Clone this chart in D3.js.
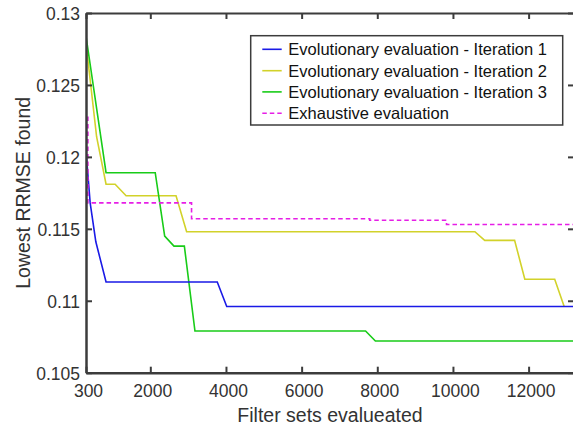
<!DOCTYPE html>
<html>
<head>
<meta charset="utf-8">
<script src="https://cdn.jsdelivr.net/npm/d3@7"></script>
<style>
  html, body { margin: 0; padding: 0; background: #fff; }
  svg { display: block; font-family: "Liberation Sans", Arial, sans-serif; }
</style>
</head>
<body>
<svg id="chart" width="573" height="425"></svg>
<script>
// ---- data ----
const seriesNames = [
  "Evolutionary evaluation - Iteration 1",
  "Evolutionary evaluation - Iteration 2",
  "Evolutionary evaluation - Iteration 3",
  "Exhaustive evaluation"
];
const iter1X = [300, 410, 560, 830, 3770, 4020, 13200];
const iter1Y = [0.1204, 0.1168, 0.1141, 0.1113, 0.1113, 0.1096, 0.1096];

const iter2X = [300, 580, 830, 1070, 1360, 2680, 2960, 10580, 10840, 11630, 11900, 12690, 12940];
const iter2Y = [0.1279, 0.1214, 0.1181, 0.1181, 0.1173, 0.1173, 0.1148, 0.1148, 0.1142, 0.1142, 0.1115, 0.1115, 0.1096];

const iter3X = [300, 830, 2130, 2380, 2625, 2900, 3180, 7690, 7950, 13200];
const iter3Y = [0.1284, 0.1189, 0.1189, 0.1145, 0.1138, 0.1138, 0.1079, 0.1079, 0.1072, 0.1072];

const exhaustX = [350, 350, 3090, 3090, 7800, 7800, 9830, 9830, 13200];
const exhaustY = [0.1228, 0.1168, 0.1168, 0.1157, 0.1157, 0.1156, 0.1156, 0.1153, 0.1153];

const xTickValues = [300, 2000, 4000, 6000, 8000, 10000, 12000];
const xTickLabels = ["300", "2000", "4000", "6000", "8000", "10000", "12000"];
const yTickValues = [0.105, 0.11, 0.115, 0.12, 0.125, 0.13];
const yTickLabels = ["0.105", "0.11", "0.115", "0.12", "0.125", "0.13"];

const xDomain = [300, 13200];
const yDomain = [0.105, 0.13];

// ---- styles ----
const colors = ["#1a1ae6", "#d2d22a", "#18cc18", "#e61ee6"];
const dashes = [null, null, null, "4.5,3"];
const axisColor = "#3c3c3c";
const textColor = "#333";

// ---- layout ----
const L = 86, R = 574, T = 13, B = 372.7;
const svg = d3.select("#chart");
const x = d3.scaleLinear().domain(xDomain).range([L, R]);
const y = d3.scaleLinear().domain(yDomain).range([B, T]);

svg.append("defs").append("clipPath").attr("id", "clip")
  .append("rect").attr("x", L).attr("y", T).attr("width", R - L).attr("height", B - T);

const series = [
  { xs: iter1X, ys: iter1Y },
  { xs: iter2X, ys: iter2Y },
  { xs: iter3X, ys: iter3Y },
  { xs: exhaustX, ys: exhaustY }
];

const line = d3.line().x(d => x(d[0])).y(d => y(d[1]));
const gLines = svg.append("g").attr("clip-path", "url(#clip)");
// draw order: iteration 2, iteration 3, iteration 1, exhaustive
[1, 2, 0, 3].forEach(i => {
  const s = series[i];
  const pts = s.xs.map((v, k) => [v, s.ys[k]]);
  gLines.append("path")
    .datum(pts)
    .attr("d", line)
    .attr("fill", "none")
    .attr("stroke", colors[i])
    .attr("stroke-width", 1.6)
    .attr("stroke-dasharray", dashes[i]);
});

// ---- axes ----
const tickSize = 6;
const fontTick = 17.5;

const xAxisBottom = d3.axisBottom(x).tickValues(xTickValues)
  .tickFormat((d, i) => xTickLabels[i]).tickSizeInner(-tickSize).tickSizeOuter(0).tickPadding(12);
const gxb = svg.append("g").attr("transform", `translate(0,${B})`).call(xAxisBottom);
const xAxisTop = d3.axisTop(x).tickValues(xTickValues).tickFormat("").tickSizeInner(-tickSize).tickSizeOuter(0);
const gxt = svg.append("g").attr("transform", `translate(0,${T})`).call(xAxisTop);

const yAxisLeft = d3.axisLeft(y).tickValues(yTickValues)
  .tickFormat((d, i) => yTickLabels[i]).tickSizeInner(-tickSize).tickSizeOuter(0).tickPadding(12);
const gyl = svg.append("g").attr("transform", `translate(${L},0)`).call(yAxisLeft);
const yAxisRight = d3.axisRight(y).tickValues(yTickValues).tickFormat("").tickSizeInner(-tickSize).tickSizeOuter(0);
const gyr = svg.append("g").attr("transform", `translate(${R},0)`).call(yAxisRight);

[gxb, gxt, gyl, gyr].forEach(g => {
  g.select(".domain").attr("stroke", axisColor).attr("stroke-width", 2.5);
  g.selectAll(".tick line").attr("stroke", axisColor).attr("stroke-width", 2);
  g.selectAll(".tick text").attr("fill", textColor).attr("font-size", fontTick)
    .attr("font-family", "Liberation Sans, Arial, sans-serif");
});
gxt.select(".domain").attr("stroke-width", 2);
gxb.selectAll(".tick text").attr("dx", 2).attr("dy", "0.71em");
gyl.selectAll(".tick text").attr("dy", 6.3).attr("x", -6);

// ---- axis labels ----
svg.append("text")
  .attr("x", (L + R) / 2).attr("y", 421.5)
  .attr("text-anchor", "middle").attr("font-size", 19.5).attr("fill", textColor)
  .text("Filter sets evalueated");
svg.append("text")
  .attr("transform", `translate(30,${(T + B) / 2}) rotate(-90)`)
  .attr("text-anchor", "middle").attr("font-size", 19.5).attr("fill", textColor)
  .text("Lowest RRMSE found");

// ---- legend ----
const lg = svg.append("g");
lg.append("rect").attr("x", 250.7).attr("y", 35.7).attr("width", 312).attr("height", 89.3)
  .attr("fill", "#fff").attr("stroke", axisColor).attr("stroke-width", 1.5);
const rowY = [49.3, 70.7, 91.9, 113.3];
seriesNames.forEach((name, i) => {
  lg.append("line").attr("x1", 262.3).attr("x2", 281.7).attr("y1", rowY[i]).attr("y2", rowY[i])
    .attr("stroke", colors[i]).attr("stroke-width", 1.6).attr("stroke-dasharray", dashes[i]);
  lg.append("text").attr("x", 288.3).attr("y", rowY[i]).attr("dy", "0.36em")
    .attr("font-size", 16.5).attr("fill", "#111").text(name);
});
</script>
</body>
</html>
